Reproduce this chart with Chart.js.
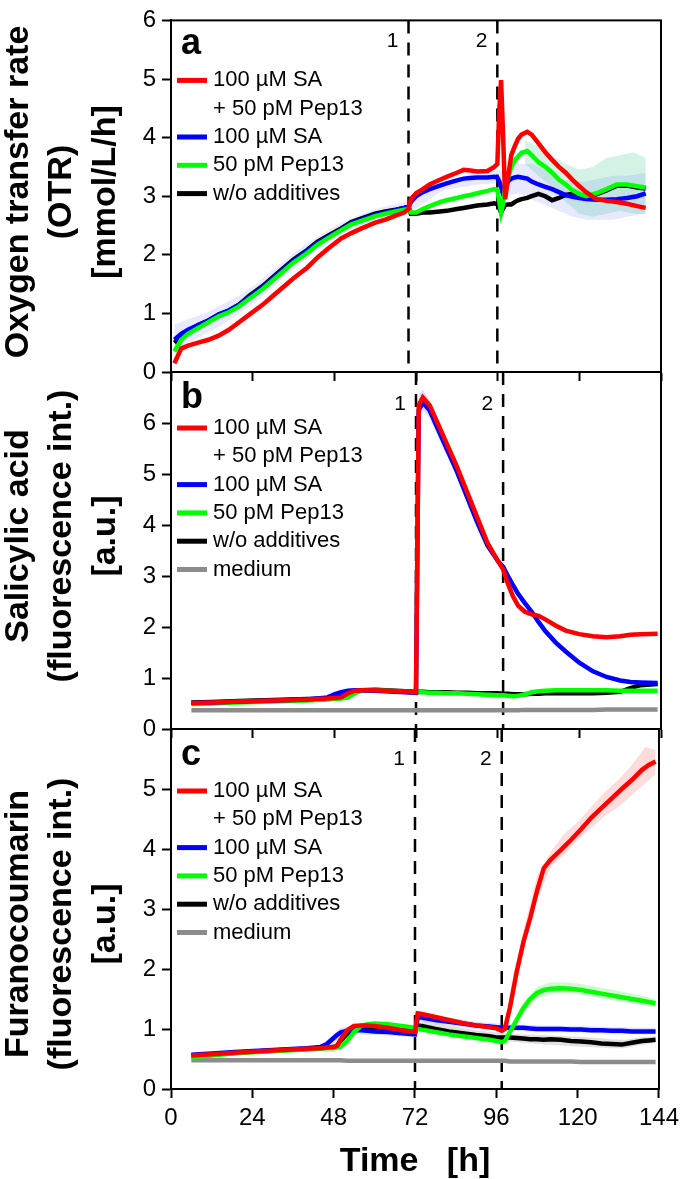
<!DOCTYPE html>
<html lang="en">
<head>
<meta charset="UTF-8">
<title>OTR, salicylic acid and furanocoumarin</title>
<style>
    body, html {
        margin: 0;
        padding: 0;
        background: #fff;
    }
    #figure {
        position: relative;
        width: 685px;
        height: 1179px;
    }
    /* the three panels are stacked full-size canvases, each one keeps its own plot area */
    .panel {
        position: absolute;
        left: 0;
        top: 0;
        width: 685px;
        height: 1179px;
    }
</style>
</head>
<body>
<div id="figure">
    <div class="panel"><canvas id="chartA"></canvas></div>
    <div class="panel"><canvas id="chartB"></canvas></div>
    <div class="panel"><canvas id="chartC"></canvas></div>
</div>

<script src="https://cdn.jsdelivr.net/npm/chart.js"></script>
<script>
// ---------- data ----------
const timeTicks = [0, 24, 48, 72, 96, 120, 144];
const otrTicks = [0, 1, 2, 3, 4, 5, 6];
const saTicks = [0, 1, 2, 3, 4, 5, 6];
const fcTicks = [0, 1, 2, 3, 4, 5];

const seriesLabels = [['100 µM SA', '+ 50 pM Pep13'], ['100 µM SA'], ['50 pM Pep13'], ['w/o additives'], ['medium']];

// additions (dashed lines 1 and 2), hours
const otrEvents = [69.8, 95.9];
const saEvents = [72, 97.6];
const fcEvents = [72, 97.6];

// panel a: oxygen transfer rate
const tA = [1, 3, 5, 8, 11, 14, 17, 20, 23, 27, 30, 33, 36, 40, 43, 46, 50, 53, 56, 60, 63, 66, 68.5, 69.8, 70.5,
    72, 74, 76, 79, 81, 84, 86, 88, 90, 93, 95, 95.9, 96.5, 97, 97.5, 98.2, 99, 100, 101, 102, 103, 104.7, 106, 108, 110,
    112, 114, 116, 118, 120, 122, 125, 128, 131, 134, 137, 139.5];
const otrRed = [0.15, 0.4, 0.45, 0.5, 0.55, 0.62, 0.72, 0.85, 0.98, 1.15, 1.3, 1.45, 1.6, 1.78, 1.95, 2.1, 2.28, 2.37, 2.45, 2.55,
    2.6, 2.67, 2.72, 2.78, 2.95, 3.05, 3.12, 3.2, 3.28, 3.33, 3.4, 3.45, 3.44, 3.42, 3.43, 3.5, 3.55, 4.5, 4.98, 4.2,
    2.95, 3.3, 3.7, 3.85, 3.98, 4.05, 4.1, 4.05, 3.9, 3.75, 3.62, 3.5, 3.4, 3.28, 3.17, 3.07, 2.95, 2.92, 2.9, 2.87, 2.83, 2.8];
const otrBlue = [0.55, 0.65, 0.72, 0.8, 0.88, 0.98, 1.05, 1.15, 1.28, 1.45, 1.6, 1.75, 1.9, 2.07, 2.2, 2.3, 2.43, 2.54, 2.6, 2.68,
    2.72, 2.76, 2.8, 2.82, 2.9, 3.0, 3.07, 3.12, 3.18, 3.22, 3.27, 3.3, 3.31, 3.32, 3.32, 3.33, 3.32, 3.25, 3.15, 3.05,
    3.1, 3.25, 3.3, 3.32, 3.33, 3.32, 3.3, 3.25, 3.2, 3.16, 3.12, 3.07, 3.02, 2.99, 2.97, 2.95, 2.94, 2.94, 2.95, 2.97, 3.0, 3.05];
const otrGreen = [0.35, 0.55, 0.65, 0.75, 0.85, 0.95, 1.02, 1.12, 1.25, 1.42, 1.57, 1.72, 1.87, 2.03, 2.17, 2.28, 2.42, 2.52, 2.58, 2.66,
    2.7, 2.74, 2.77, 2.78, 2.72, 2.72, 2.78, 2.83, 2.9, 2.93, 2.97, 3.0, 3.02, 3.05, 3.09, 3.12, 3.1, 2.9, 2.72, 2.85,
    3.15, 3.3, 3.5, 3.6, 3.68, 3.74, 3.77, 3.7, 3.58, 3.5, 3.4, 3.28, 3.2, 3.1, 3.04, 3.0, 3.05, 3.12, 3.2, 3.2, 3.17, 3.15];
const otrBlack = [0.5, 0.6, 0.7, 0.8, 0.88, 0.98, 1.05, 1.15, 1.3, 1.47, 1.62, 1.77, 1.92, 2.08, 2.22, 2.32, 2.45, 2.56, 2.62, 2.7,
    2.74, 2.77, 2.8, 2.82, 2.7, 2.7, 2.72, 2.72, 2.74, 2.75, 2.78, 2.8, 2.82, 2.84, 2.86, 2.88, 2.86, 2.8, 2.72, 2.78,
    2.85, 2.86, 2.86, 2.9, 2.93, 2.95, 2.97, 3.0, 3.04, 3.0, 2.93, 2.97, 3.02, 3.04, 3.02, 2.99, 3.03, 3.1, 3.18, 3.18, 3.15, 3.13];
// shaded deviation bands, panel a
const otrBlueBandT = [1, 5, 10, 15, 20, 25, 30, 40, 50, 60, 70, 80, 90, 96, 98, 102, 106, 110, 114, 118, 122, 126, 130, 134, 139.5];
const otrBlueLo = [0.3, 0.5, 0.65, 0.8, 1.0, 1.2, 1.45, 1.95, 2.35, 2.6, 2.72, 3.1, 3.2, 3.22, 3.0, 3.05, 2.95, 2.85, 2.75, 2.65, 2.6, 2.6, 2.6, 2.65, 2.7];
const otrBlueHi = [0.8, 0.9, 1.0, 1.15, 1.3, 1.5, 1.75, 2.2, 2.55, 2.78, 2.92, 3.2, 3.42, 3.45, 3.4, 3.55, 3.55, 3.45, 3.3, 3.25, 3.25, 3.3, 3.35, 3.35, 3.4];
const otrGreenBandT = [104, 108, 112, 116, 120, 124, 128, 132, 136, 139.5];
const otrGreenLo = [3.55, 3.35, 3.15, 2.9, 2.7, 2.65, 2.7, 2.75, 2.7, 2.7];
const otrGreenHi = [3.95, 3.85, 3.7, 3.55, 3.45, 3.5, 3.65, 3.7, 3.75, 3.65];

// panel b: salicylic acid fluorescence
const tB = [6, 12, 20, 30, 40, 46, 48, 50, 52, 54, 56, 60, 66, 72, 72.8, 74, 76, 78, 81, 84, 87, 90, 93, 96, 97.6,
    99, 100.5, 102, 104, 106, 108, 110, 113, 116, 120, 124, 128, 132, 135, 138, 143];
const saRed = [0.51, 0.52, 0.54, 0.56, 0.58, 0.6, 0.61, 0.62, 0.7, 0.75, 0.76, 0.76, 0.74, 0.72, 6.35, 6.5, 6.35, 6.05, 5.6, 5.15,
    4.65, 4.15, 3.65, 3.3, 3.13, 2.85, 2.6, 2.42, 2.3, 2.25, 2.22, 2.15, 2.03, 1.93, 1.86, 1.82, 1.8, 1.82, 1.85, 1.86, 1.87];
const saBlue = [0.51, 0.52, 0.54, 0.56, 0.58, 0.62, 0.68, 0.72, 0.75, 0.76, 0.76, 0.75, 0.73, 0.71, 6.25, 6.4, 6.25, 5.95, 5.5, 5.05,
    4.55, 4.05, 3.6, 3.3, 3.18, 3.0, 2.82, 2.65, 2.47, 2.3, 2.1, 1.92, 1.7, 1.52, 1.3, 1.13, 1.02, 0.95, 0.92, 0.91, 0.9];
const saGreen = [0.49, 0.5, 0.52, 0.54, 0.56, 0.58, 0.59, 0.6, 0.62, 0.7, 0.75, 0.76, 0.74, 0.72, 0.72, 0.72, 0.71, 0.71, 0.7, 0.7,
    0.69, 0.68, 0.67, 0.66, 0.66, 0.65, 0.64, 0.65, 0.68, 0.72, 0.74, 0.75, 0.76, 0.76, 0.76, 0.76, 0.76, 0.75, 0.75, 0.75, 0.75];
const saBlack = [0.52, 0.53, 0.55, 0.57, 0.59, 0.6, 0.61, 0.63, 0.68, 0.74, 0.76, 0.77, 0.75, 0.73, 0.73, 0.73, 0.72, 0.72, 0.72, 0.71,
    0.71, 0.7, 0.7, 0.7, 0.69, 0.69, 0.68, 0.68, 0.68, 0.69, 0.69, 0.7, 0.7, 0.7, 0.7, 0.7, 0.71, 0.73, 0.8, 0.86, 0.88];
const saMedium = [0.37, 0.37, 0.37, 0.37, 0.37, 0.37, 0.37, 0.37, 0.37, 0.37, 0.37, 0.37, 0.37, 0.37, 0.37, 0.37, 0.37, 0.37, 0.37, 0.37,
    0.37, 0.37, 0.37, 0.37, 0.37, 0.37, 0.37, 0.37, 0.375, 0.375, 0.375, 0.375, 0.375, 0.375, 0.375, 0.375, 0.38, 0.38, 0.38, 0.38, 0.38];
const saBlueBandT = [72.8, 74, 76, 78, 81];
const saBlueLo = [6.1, 6.25, 6.1, 5.8, 5.35];
const saBlueHi = [6.55, 6.65, 6.45, 6.15, 5.7];

// panel c: furanocoumarin fluorescence
const tC = [6, 12, 20, 30, 40, 44, 46, 48, 49, 50, 52, 54, 56, 58, 60, 64, 68, 72, 72.8, 74, 78, 82, 86, 90, 94,
    96, 97.6, 98.5, 100, 102, 104, 106, 108, 110, 112, 115, 118, 121, 124, 127, 130, 133, 136, 139, 141, 143];
const fcRed = [0.56, 0.58, 0.61, 0.64, 0.67, 0.68, 0.69, 0.7, 0.72, 0.82, 0.98, 1.05, 1.06, 1.06, 1.05, 1.02, 0.98, 0.95, 1.26, 1.25,
    1.2, 1.15, 1.1, 1.06, 1.03, 1.01, 0.97, 1.0, 1.35, 1.95, 2.45, 2.85, 3.3, 3.68, 3.82, 3.98, 4.15, 4.33, 4.52, 4.68,
    4.84, 5.0, 5.15, 5.32, 5.4, 5.46];
const fcBlue = [0.57, 0.59, 0.62, 0.65, 0.68, 0.7, 0.75, 0.85, 0.9, 0.94, 0.97, 0.98, 0.98, 0.97, 0.96, 0.95, 0.93, 0.91, 1.2, 1.19,
    1.15, 1.12, 1.09, 1.06, 1.04, 1.03, 1.02, 1.02, 1.02, 1.02, 1.02, 1.01, 1.0, 1.0, 1.0, 1.0, 0.99, 0.99, 0.98, 0.98,
    0.97, 0.97, 0.96, 0.96, 0.96, 0.96];
const fcGreen = [0.53, 0.56, 0.6, 0.63, 0.66, 0.67, 0.68, 0.68, 0.69, 0.7, 0.8, 0.95, 1.05, 1.08, 1.09, 1.08, 1.05, 1.02, 1.0, 0.99,
    0.95, 0.91, 0.88, 0.85, 0.82, 0.8, 0.78, 0.8, 0.95, 1.15, 1.35, 1.5, 1.6, 1.65, 1.67, 1.68, 1.67, 1.65, 1.62, 1.59,
    1.56, 1.53, 1.5, 1.47, 1.45, 1.43];
const fcBlack = [0.56, 0.58, 0.61, 0.64, 0.67, 0.68, 0.69, 0.7, 0.72, 0.8, 0.92, 1.0, 1.03, 1.03, 1.02, 1.0, 0.98, 0.96, 1.06, 1.05,
    1.0, 0.96, 0.93, 0.9, 0.88, 0.86, 0.86, 0.86, 0.86, 0.85, 0.84, 0.83, 0.83, 0.82, 0.83, 0.82, 0.8, 0.79, 0.78, 0.76,
    0.75, 0.74, 0.77, 0.8, 0.81, 0.82];
const fcMedium = [0.48, 0.48, 0.48, 0.48, 0.48, 0.48, 0.48, 0.48, 0.48, 0.48, 0.47, 0.47, 0.47, 0.47, 0.47, 0.47, 0.47, 0.47, 0.47, 0.47,
    0.47, 0.47, 0.47, 0.47, 0.47, 0.47, 0.47, 0.47, 0.46, 0.46, 0.46, 0.46, 0.46, 0.46, 0.46, 0.46, 0.46, 0.45, 0.45, 0.45,
    0.45, 0.45, 0.45, 0.45, 0.45, 0.45];
const fcRedBandT = [100, 104, 108, 112, 116, 120, 124, 128, 132, 136, 140, 143];
const fcRedLo = [1.3, 2.3, 3.15, 3.7, 3.9, 4.15, 4.35, 4.55, 4.7, 4.9, 5.1, 5.25];
const fcRedHi = [1.5, 2.65, 3.55, 3.95, 4.25, 4.45, 4.7, 4.95, 5.15, 5.4, 5.7, 5.65];
const fcGreenBandT = [100, 104, 108, 112, 116, 120, 125, 130, 135, 140, 143];
const fcGreenLo = [0.9, 1.27, 1.5, 1.58, 1.6, 1.58, 1.53, 1.48, 1.43, 1.39, 1.37];
const fcGreenHi = [1.02, 1.45, 1.7, 1.78, 1.78, 1.76, 1.71, 1.66, 1.6, 1.54, 1.5];
const fcBlackBandT = [74, 80, 90, 100, 110, 120, 126, 130, 134, 138, 143];
const fcBlackLo = [0.98, 0.91, 0.83, 0.79, 0.74, 0.71, 0.69, 0.68, 0.68, 0.73, 0.77];
const fcBlackHi = [1.15, 1.08, 0.98, 0.92, 0.9, 0.87, 0.85, 0.83, 0.82, 0.86, 0.88];
const fcBlueBandT = [44, 47, 50, 54, 58, 64, 72, 72.8, 80, 90, 100, 110, 120, 130, 143];
const fcBlueLo = [0.68, 0.72, 0.85, 0.91, 0.91, 0.89, 0.86, 1.14, 1.08, 1.0, 0.97, 0.95, 0.94, 0.92, 0.91];
const fcBlueHi = [0.72, 0.86, 1.02, 1.05, 1.04, 1.01, 0.97, 1.26, 1.2, 1.12, 1.08, 1.06, 1.05, 1.03, 1.02];

// ---------- styling ----------
const FONT = '"Liberation Sans", Arial, sans-serif';
const RED = '#ff0000', BLUE = '#0000ff', GREEN = '#00ff00', BLACK = '#000000', GREY = '#8c8c8c';
Chart.defaults.font.family = FONT;
Chart.defaults.color = '#000';

function pts(t, v) {
    return t.map((x, i) => ({ x: x, y: v[i] }));
}

function line(t, v, color) {
    return { data: pts(t, v), borderColor: color, borderWidth: 4.5, pointRadius: 0, tension: 0, fill: false };
}

// two datasets, the upper one fills down to the lower one
function band(t, lo, hi, color) {
    return [
        { data: pts(t, hi), borderWidth: 0, pointRadius: 0, backgroundColor: color, fill: '+1' },
        { data: pts(t, lo), borderWidth: 0, pointRadius: 0, fill: false }
    ];
}

// frame, dashed addition lines, numbers, panel letter, legend and y title
function decoPlugin(cfg) {
    return {
        id: 'deco',
        beforeDatasetsDraw(chart) {
            const ctx = chart.ctx, a = chart.chartArea, x = chart.scales.x;
            ctx.save();
            ctx.strokeStyle = '#000';
            ctx.lineWidth = 2.5;
            ctx.setLineDash([13, 9]);
            cfg.events.forEach(t => {
                const px = x.getPixelForValue(t);
                ctx.beginPath();
                ctx.moveTo(px, a.top);
                ctx.lineTo(px, a.bottom);
                ctx.stroke();
            });
            ctx.restore();
        },
        afterDraw(chart) {
            const ctx = chart.ctx, a = chart.chartArea, x = chart.scales.x;
            ctx.save();
            ctx.lineWidth = 2;
            ctx.strokeStyle = '#000';
            ctx.strokeRect(a.left, a.top, a.right - a.left, a.bottom - a.top);

            ctx.fillStyle = '#000';
            ctx.font = '21px ' + FONT;
            ctx.textAlign = 'right';
            ctx.textBaseline = 'middle';
            cfg.events.forEach((t, i) => ctx.fillText(String(i + 1), x.getPixelForValue(t) - 10, a.top + cfg.numberY));

            ctx.font = 'bold 36px ' + FONT;
            ctx.textAlign = 'left';
            ctx.textBaseline = 'alphabetic';
            ctx.fillText(cfg.letter, a.left + 10, a.top + cfg.letterY);

            ctx.font = '22px ' + FONT;
            ctx.textBaseline = 'middle';
            let y = a.top + cfg.legendY;
            cfg.legend.forEach((text, i) => {
                ctx.strokeStyle = cfg.colors[i];
                ctx.lineWidth = 5;
                ctx.beginPath();
                ctx.moveTo(a.left + 6, y);
                ctx.lineTo(a.left + 36, y);
                ctx.stroke();
                text.forEach(s => {
                    ctx.fillText(s, a.left + 42, y);
                    y += 28.3;
                });
            });

            ctx.font = 'bold 34px ' + FONT;
            ctx.textAlign = 'center';
            cfg.title.forEach((s, i) => {
                ctx.save();
                ctx.translate(cfg.titleX[i], cfg.titleY);
                ctx.rotate(-Math.PI / 2);
                ctx.fillText(s, 0, 0);
                ctx.restore();
            });
            ctx.restore();
        }
    };
}

function makeChart(id, datasets, p) {
    const xAxis = {
        type: 'linear', min: 0, max: 144,
        afterBuildTicks: s => { s.ticks = timeTicks.map(v => ({ value: v })); },
        afterFit: s => { s.height = p.xHeight; },
        grid: { drawOnChartArea: false, tickLength: 9, tickWidth: 2, tickColor: '#000' },
        border: { color: '#000', width: 2 },
        ticks: { display: p.showTime, font: { size: 24 }, padding: 6, maxRotation: 0 },
        title: { display: p.showTime, text: 'Time   [h]', font: { size: 34, weight: 'bold', lineHeight: 1 }, padding: 0 }
    };
    return new Chart(document.getElementById(id), {
        type: 'line',
        data: { datasets: datasets },
        options: {
            responsive: true,
            maintainAspectRatio: false,
            animation: false,
            events: [],
            layout: { padding: { top: p.top, right: 24, bottom: p.bottom, left: 0 } },
            plugins: { legend: { display: false }, tooltip: { enabled: false } },
            scales: {
                x: xAxis,
                y: {
                    min: 0, max: p.yMax,
                    afterBuildTicks: s => { s.ticks = p.yTicks.map(v => ({ value: v })); },
                    afterFit: s => { s.width = 171; },
                    grid: { drawOnChartArea: false, tickLength: 9, tickWidth: 2, tickColor: '#000' },
                    border: { color: '#000', width: 2 },
                    ticks: { font: { size: 24 }, padding: 6 }
                }
            }
        },
        plugins: [decoPlugin(p.deco)]
    });
}

const colors = [RED, BLUE, GREEN, BLACK, GREY];

// panel a
makeChart('chartA', [
    line(tA, otrRed, RED),
    line(tA, otrGreen, GREEN),
    line(tA, otrBlue, BLUE),
    line(tA, otrBlack, BLACK),
    ...band(otrGreenBandT, otrGreenLo, otrGreenHi, 'rgba(60, 200, 140, 0.22)'),
    ...band(otrBlueBandT, otrBlueLo, otrBlueHi, 'rgba(90, 90, 255, 0.14)')
], {
    top: 13, bottom: 1179 - 372 - 12, xHeight: 12, yMax: 6, yTicks: otrTicks, showTime: false,
    deco: {
        events: otrEvents, letter: 'a', numberY: 21, letterY: 34, legendY: 60,
        legend: seriesLabels.slice(0, 4), colors: colors,
        title: ['Oxygen transfer rate', '(OTR)', '[mmol/L/h]'], titleX: [19, 62, 106], titleY: 192
    }
});

// panel b
makeChart('chartB', [
    line(tB, saRed, RED),
    line(tB, saBlue, BLUE),
    line(tB, saGreen, GREEN),
    line(tB, saBlack, BLACK),
    line(tB, saMedium, GREY),
    ...band(saBlueBandT, saBlueLo, saBlueHi, 'rgba(90, 90, 255, 0.2)')
], {
    top: 372, bottom: 1179 - 729 - 12, xHeight: 12, yMax: 7, yTicks: saTicks, showTime: false,
    deco: {
        events: saEvents, letter: 'b', numberY: 32, letterY: 36, legendY: 56,
        legend: seriesLabels, colors: colors,
        title: ['Salicylic acid', '(fluorescence int.)', '[a.u.]'], titleX: [19, 62, 106], titleY: 536
    }
});

// panel c
makeChart('chartC', [
    line(tC, fcRed, RED),
    line(tC, fcGreen, GREEN),
    line(tC, fcBlue, BLUE),
    line(tC, fcBlack, BLACK),
    line(tC, fcMedium, GREY),
    ...band(fcRedBandT, fcRedLo, fcRedHi, 'rgba(255, 80, 80, 0.2)'),
    ...band(fcGreenBandT, fcGreenLo, fcGreenHi, 'rgba(0, 220, 0, 0.18)'),
    ...band(fcBlackBandT, fcBlackLo, fcBlackHi, 'rgba(0, 0, 0, 0.12)'),
    ...band(fcBlueBandT, fcBlueLo, fcBlueHi, 'rgba(90, 90, 255, 0.18)')
], {
    top: 729, bottom: 0, xHeight: 90, yMax: 6, yTicks: fcTicks, showTime: true,
    deco: {
        events: fcEvents, letter: 'c', numberY: 30, letterY: 36, legendY: 62,
        legend: seriesLabels, colors: colors,
        title: ['Furanocoumarin', '(fluorescence int.)', '[a.u.]'], titleX: [19, 62, 106], titleY: 924
    }
});
</script>
</body>
</html>
